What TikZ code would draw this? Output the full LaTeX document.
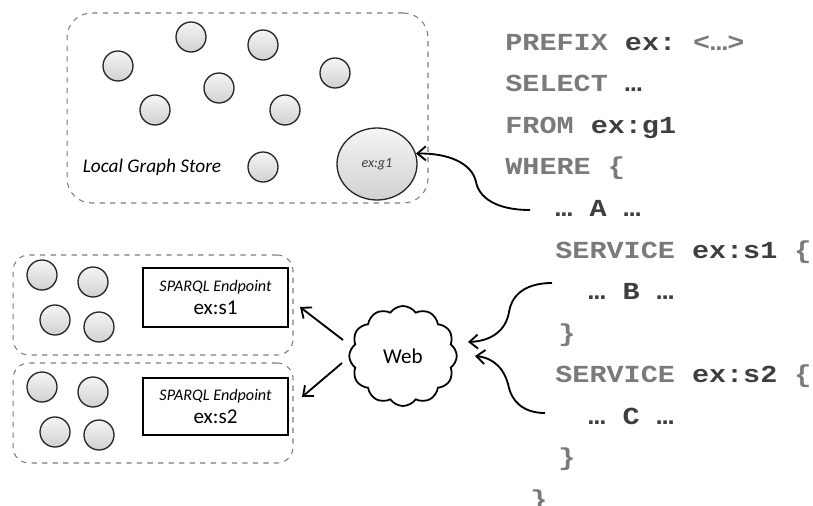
\documentclass[tikz,border=0pt]{standalone}
\usepackage{fontspec}
\setmainfont{Carlito}
\setmonofont{Liberation Mono}
\usetikzlibrary{shapes.symbols,shapes.geometric,arrows.meta}

\definecolor{kwgray}{RGB}{122,122,122}
\definecolor{iddark}{RGB}{62,62,62}
\definecolor{boxdash}{RGB}{125,125,125}

\newcommand{\kw}[1]{\textcolor{kwgray}{#1}}
\newcommand{\idt}[1]{\textcolor{iddark}{#1}}
\newcommand{\codeline}[1]{\scalebox{1}[0.86]{#1}}

\begin{document}
\begin{tikzpicture}[x=0.02cm,y=-0.02cm,
  res/.style={circle, draw=black!85, line width=0.75pt, inner sep=0pt,
    minimum size=0.6cm, top color=gray!8, bottom color=gray!36},
  store/.style={draw=boxdash, dashed, line width=0.6pt, rounded corners=9pt},
  endpoint/.style={draw=black, line width=1.3pt, fill=white, inner sep=0pt,
    minimum width=2.9cm, align=center},
  code/.style={anchor=base west, inner sep=0pt,
    font=\ttfamily\bfseries\fontsize{16.2}{18}\selectfont},
  conn/.style={draw=black, line width=1.05pt,
    -{Straight Barb[length=4.8pt,width=8pt]}},
]
\useasboundingbox (0,0) rectangle (813,506);

% local graph store
\node[store, rounded corners=14pt, minimum width=7.22cm, minimum height=3.8cm]
  (local) at (247.5,108) {};
\node[res] (r1) at (191,37) {};
\node[res] (r2) at (263,45) {};
\node[res] (r3) at (118,66) {};
\node[res] (r4) at (335,73) {};
\node[res] (r5) at (219,88) {};
\node[res] (r6) at (155,110) {};
\node[res] (r7) at (285,110) {};
\node[res] (r8) at (263,167) {};
\node[ellipse, draw=black!85, line width=0.75pt, inner sep=0pt,
  minimum width=1.6cm, minimum height=1.44cm, top color=gray!8,
  bottom color=gray!36, font=\itshape\fontsize{8}{9}\selectfont,
  text=iddark] (g1) at (377,164) {ex:g1};
\node[font=\itshape\fontsize{11}{13}\selectfont] (lgs) at (152,167)
  {Local Graph Store};

% remote sites
\node[store, minimum width=5.6cm, minimum height=2cm] (site1) at (153,305) {};
\node[store, minimum width=5.6cm, minimum height=2cm] (site2) at (153,413) {};
\node[res] (a1) at (42,275) {};
\node[res] (a2) at (93,282) {};
\node[res] (a3) at (55,320) {};
\node[res] (a4) at (99,327) {};
\node[res] (b1) at (42,387) {};
\node[res] (b2) at (93,392) {};
\node[res] (b3) at (55,432) {};
\node[res] (b4) at (99,435) {};
\node[endpoint, minimum height=1.18cm] (s1) at (215.5,297.5)
  {{\itshape\fontsize{9.2}{13}\selectfont SPARQL Endpoint}\\[1pt]
   {\fontsize{12}{13}\selectfont ex:s1}};
\node[endpoint, minimum height=1.14cm] (s2) at (215.5,406.5)
  {{\itshape\fontsize{9.2}{13}\selectfont SPARQL Endpoint}\\[1pt]
   {\fontsize{12}{13}\selectfont ex:s2}};

% the web
\node[cloud, cloud puffs=12, cloud puff arc=110, cloud ignores aspect,
  draw=black, line width=1pt, minimum width=2.15cm, minimum height=2cm,
  font=\fontsize{12}{14}\selectfont] (web) at (403,356) {Web};

% query text
\node[code] (l0) at (505,50.5)  {\codeline{\kw{PREFIX} \idt{ex:} \kw{<…>}}};
\node[code] (l1) at (505,92)    {\codeline{\kw{SELECT} \idt{…}}};
\node[code] (l2) at (505,133.5) {\codeline{\kw{FROM} \idt{ex:g1}}};
\node[code] (l3) at (505,175)   {\codeline{\kw{WHERE} \kw{\{}}};
\node[code] (l4) at (555,216.5) {\codeline{\idt{… A …}}};
\node[code] (l5) at (555,258)   {\codeline{\kw{SERVICE} \idt{ex:s1} \kw{\{}}};
\node[code] (l6) at (588,299.5) {\codeline{\idt{… B …}}};
\node[code] (l7) at (558,341)   {\codeline{\kw{\}}}};
\node[code] (l8) at (555,382.5) {\codeline{\kw{SERVICE} \idt{ex:s2} \kw{\{}}};
\node[code] (l9) at (588,424)   {\codeline{\idt{… C …}}};
\node[code] (l10) at (558,465.5) {\codeline{\kw{\}}}};
\node[code] (l11) at (530,507)  {\codeline{\kw{\}}}};

% connectors
\coordinate (qa) at (530,210);
\coordinate (qb) at (552,283);
\coordinate (qc) at (545,413);
\coordinate (wa) at (343,340);
\coordinate (wb) at (342,363);
\coordinate (ta) at (300,307);
\coordinate (tb) at (302,397);

\draw[conn] (qa) .. controls (495,210) and (479,197) .. (476,182)
  .. controls (472,163) and (448,153) .. (g1.15);
\draw[conn] (qb) .. controls (522,283) and (511,298) .. (509,312)
  .. controls (506,330) and (492,341) .. (468,342);
\draw[conn] (qc) .. controls (522,413) and (512,400) .. (509,388)
  .. controls (505,369) and (494,358) .. (475,356);
\draw[conn] (wa) -- (ta);
\draw[conn] (wb) -- (tb);
\end{tikzpicture}
\end{document}
